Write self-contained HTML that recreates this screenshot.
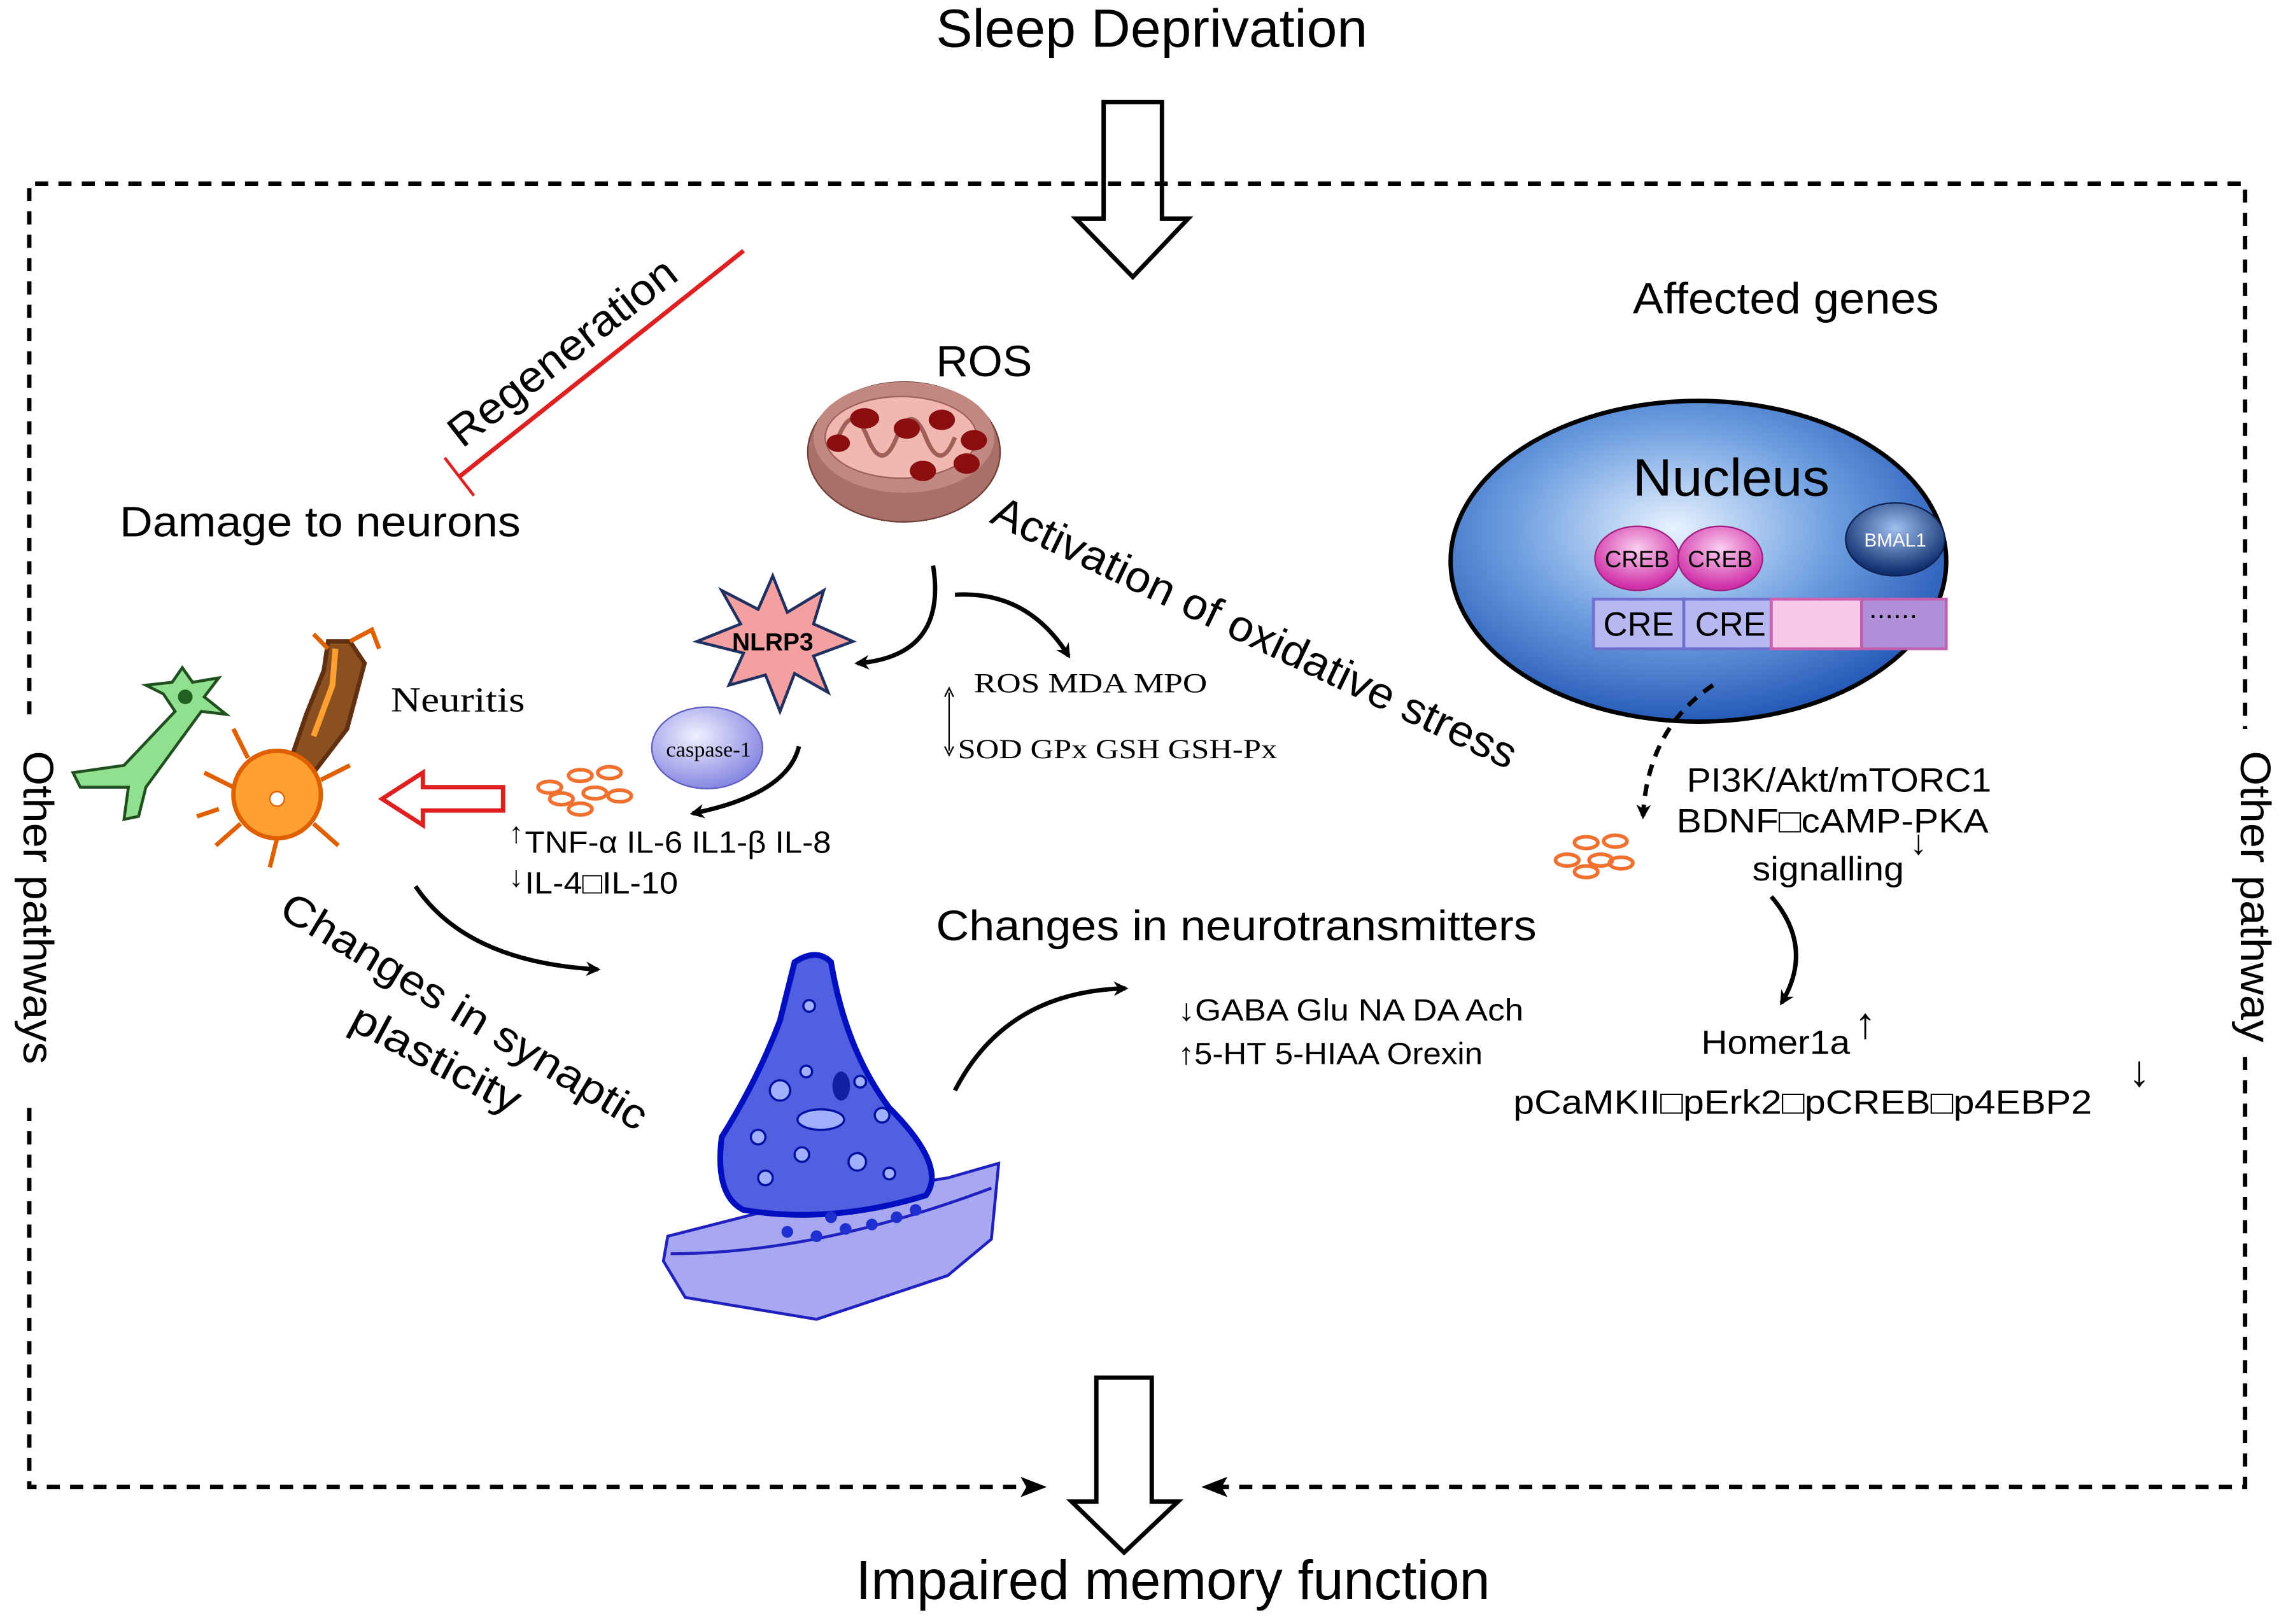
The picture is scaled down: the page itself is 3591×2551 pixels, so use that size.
<!DOCTYPE html>
<html><head><meta charset="utf-8"><style>html,body{margin:0;padding:0;background:#fff}svg{display:block}</style></head>
<body>
<svg width="3591" height="2551" viewBox="0 0 1568 1114" xmlns="http://www.w3.org/2000/svg" font-family="Liberation Sans, sans-serif">
<defs>
<radialGradient id="nuc" cx="0.45" cy="0.4" r="0.65"><stop offset="0" stop-color="#e8f2ff"/><stop offset="0.5" stop-color="#6d9ee0"/><stop offset="1" stop-color="#1a4fb0"/></radialGradient>
<radialGradient id="creb" cx="0.5" cy="0.35" r="0.6"><stop offset="0" stop-color="#fbd0f0"/><stop offset="1" stop-color="#d030a8"/></radialGradient>
<radialGradient id="bm" cx="0.5" cy="0.35" r="0.6"><stop offset="0" stop-color="#a0c0f0"/><stop offset="1" stop-color="#103070"/></radialGradient>
<radialGradient id="cas" cx="0.4" cy="0.35" r="0.7"><stop offset="0" stop-color="#f0f0ff"/><stop offset="1" stop-color="#8080e0"/></radialGradient>
<marker id="ah" markerWidth="10" markerHeight="10" refX="8" refY="5" orient="auto" markerUnits="userSpaceOnUse"><path d="M0,0 L10,5 L0,10 L3,5Z" fill="#000"/></marker>
</defs>
<text x="642" y="32" font-size="37" textLength="296" lengthAdjust="spacingAndGlyphs">Sleep Deprivation</text>
<path d="M757,70 H797 V150 H815 L777,190 L738,150 H757Z" fill="#fff" stroke="#000" stroke-width="3"/>
<g stroke="#000" stroke-width="3" stroke-dasharray="9,7" fill="none">
<path d="M20,490 V126 H1540 V500"/>
<path d="M20,760 V1020 H712"/>
<path d="M1540,725 V1020 H830"/>
</g>
<path d="M700,1013 L718,1020 L700,1027 L704,1020Z"/>
<path d="M842,1013 L824,1020 L842,1027 L838,1020Z"/>
<text transform="translate(16,515) rotate(90)" font-size="29" textLength="215" lengthAdjust="spacingAndGlyphs">Other pathways</text>
<text transform="translate(1537,515) rotate(90)" font-size="29" textLength="200" lengthAdjust="spacingAndGlyphs">Other pathway</text>
<path d="M752,945 H790 V1030 H808 L771,1065 L735,1030 H752Z" fill="#fff" stroke="#000" stroke-width="3"/>
<text x="587" y="1097" font-size="38" textLength="435" lengthAdjust="spacingAndGlyphs">Impaired memory function</text>
<line x1="315" y1="327" x2="510" y2="172" stroke="#e02020" stroke-width="3"/>
<line x1="305" y1="314" x2="325" y2="340" stroke="#e02020" stroke-width="2"/>
<text transform="translate(317,308) rotate(-38)" font-size="30" textLength="190" lengthAdjust="spacingAndGlyphs">Regeneration</text>
<text x="82" y="368" font-size="29" textLength="275" lengthAdjust="spacingAndGlyphs">Damage to neurons</text>
<text x="642" y="258" font-size="30" textLength="66" lengthAdjust="spacingAndGlyphs">ROS</text>
<ellipse cx="620" cy="310" rx="66" ry="48" fill="#a87068" stroke="#704038"/>
<ellipse cx="620" cy="300" rx="62" ry="38" fill="#c08880"/>
<ellipse cx="618" cy="300" rx="52" ry="28" fill="#f0b8b0" stroke="#a06058"/>
<path d="M575,300 q10,-25 20,0 q10,25 20,0 q10,-25 20,0 q10,25 20,0" fill="none" stroke="#a06058" stroke-width="3"/>
<g fill="#8a0e10"><ellipse cx="593" cy="287" rx="10" ry="7"/><ellipse cx="622" cy="294" rx="9" ry="7"/><ellipse cx="646" cy="288" rx="9" ry="7"/><ellipse cx="668" cy="302" rx="9" ry="7"/><ellipse cx="663" cy="318" rx="9" ry="7"/><ellipse cx="633" cy="323" rx="9" ry="7"/><ellipse cx="575" cy="304" rx="8" ry="6"/></g>
<path d="M640,388 Q650,450 588,455" fill="none" stroke="#000" stroke-width="3" marker-end="url(#ah)"/>
<path d="M655,408 Q705,405 733,450" fill="none" stroke="#000" stroke-width="3" marker-end="url(#ah)"/>
<path d="M530,395 L540,420 L565,405 L558,428 L585,440 L558,450 L568,475 L545,462 L535,488 L525,463 L500,470 L510,448 L478,440 L508,428 L495,405 L520,418Z" fill="#f4a0a0" stroke="#203060" stroke-width="2"/>
<text x="530" y="446" font-size="17" font-weight="bold" text-anchor="middle">NLRP3</text>
<ellipse cx="485" cy="513" rx="38" ry="28" fill="url(#cas)" stroke="#6060c0"/>
<text x="486" y="519" font-size="15" text-anchor="middle" font-family="Liberation Serif, serif">caspase-1</text>
<path d="M548,512 Q540,545 475,558" fill="none" stroke="#000" stroke-width="3" marker-end="url(#ah)"/>
<text transform="translate(678,358) rotate(25.5)" font-size="30" textLength="395" lengthAdjust="spacingAndGlyphs">Activation of oxidative stress</text>
<text x="668" y="475" font-size="19" font-family="Liberation Serif, serif" textLength="160" lengthAdjust="spacingAndGlyphs">ROS  MDA MPO</text>
<text x="657" y="520" font-size="19" font-family="Liberation Serif, serif" textLength="219" lengthAdjust="spacingAndGlyphs">SOD GPx GSH GSH-Px</text>
<line x1="651" y1="475" x2="651" y2="515" stroke="#000"/><path d="M648,478 L651,472 L654,478 M648,512 L651,518 L654,512" fill="none" stroke="#000"/>
<text x="1120" y="215" font-size="30" textLength="210" lengthAdjust="spacingAndGlyphs">Affected genes</text>
<ellipse cx="1165" cy="385" rx="170" ry="110" fill="url(#nuc)" stroke="#000" stroke-width="3"/>
<text x="1120" y="340" font-size="36" textLength="135" lengthAdjust="spacingAndGlyphs">Nucleus</text>
<ellipse cx="1123" cy="383" rx="29" ry="22" fill="url(#creb)" stroke="#a02080"/>
<ellipse cx="1180" cy="383" rx="29" ry="22" fill="url(#creb)" stroke="#a02080"/>
<text x="1123" y="389" font-size="16" text-anchor="middle">CREB</text>
<text x="1180" y="389" font-size="16" text-anchor="middle">CREB</text>
<ellipse cx="1300" cy="370" rx="34" ry="25" fill="url(#bm)" stroke="#102050"/>
<text x="1300" y="375" font-size="13" fill="#fff" text-anchor="middle">BMAL1</text>
<rect x="1093" y="411" width="62" height="34" fill="#b8b8f0" stroke="#7070d0" stroke-width="2"/>
<rect x="1155" y="411" width="60" height="34" fill="#b8b8f0" stroke="#7070d0" stroke-width="2"/>
<rect x="1215" y="411" width="62" height="34" fill="#f8c8e8" stroke="#d060b0" stroke-width="2"/>
<rect x="1277" y="411" width="58" height="34" fill="#b090d8" stroke="#c060b0" stroke-width="2"/>
<text x="1124" y="436" font-size="23" text-anchor="middle">CRE</text>
<text x="1187" y="436" font-size="23" text-anchor="middle">CRE</text>
<text x="1282" y="424" font-size="20">......</text>
<path d="M1175,470 Q1130,500 1127,560" fill="none" stroke="#000" stroke-width="3" stroke-dasharray="8,6" marker-end="url(#ah)"/>
<text x="1157" y="543" font-size="23" textLength="209" lengthAdjust="spacingAndGlyphs">PI3K/Akt/mTORC1</text>
<text x="1150" y="571" font-size="23" textLength="214" lengthAdjust="spacingAndGlyphs">BDNF□cAMP-PKA</text>
<text x="1202" y="604" font-size="23" textLength="104" lengthAdjust="spacingAndGlyphs">signalling</text>
<text x="1310" y="586" font-size="24">↓</text>
<path d="M1215,615 Q1245,650 1222,688" fill="none" stroke="#000" stroke-width="3" marker-end="url(#ah)"/>
<text x="1167" y="723" font-size="23" textLength="102" lengthAdjust="spacingAndGlyphs">Homer1a</text>
<text x="1272" y="712" font-size="30">↑</text>
<text x="1038" y="764" font-size="23" textLength="397" lengthAdjust="spacingAndGlyphs">pCaMKII□pErk2□pCREB□p4EBP2</text>
<text x="1460" y="745" font-size="30">↓</text>
<g fill="none" stroke="#f07030" stroke-width="2.5">
<ellipse cx="377" cy="540" rx="8" ry="4"/><ellipse cx="398" cy="532" rx="8" ry="4"/><ellipse cx="418" cy="530" rx="8" ry="4"/><ellipse cx="385" cy="548" rx="8" ry="4"/><ellipse cx="408" cy="544" rx="8" ry="4"/><ellipse cx="425" cy="546" rx="8" ry="4"/><ellipse cx="398" cy="555" rx="8" ry="4"/>
<ellipse cx="1088" cy="578" rx="8" ry="4"/><ellipse cx="1108" cy="577" rx="8" ry="4"/><ellipse cx="1098" cy="590" rx="8" ry="4"/><ellipse cx="1075" cy="590" rx="8" ry="4"/><ellipse cx="1112" cy="592" rx="8" ry="4"/><ellipse cx="1088" cy="598" rx="8" ry="4"/>
</g>
<text x="268" y="488" font-size="24" font-family="Liberation Serif, serif" textLength="92" lengthAdjust="spacingAndGlyphs">Neuritis</text>
<path d="M262,548 L290,530 V540 H345 V556 H290 V566Z" fill="#fff" stroke="#e02020" stroke-width="3"/>
<text x="360" y="585" font-size="21" textLength="210" lengthAdjust="spacingAndGlyphs">TNF-α IL-6 IL1-β IL-8</text>
<text x="360" y="613" font-size="21" textLength="105" lengthAdjust="spacingAndGlyphs">IL-4□IL-10</text>
<text x="349" y="578" font-size="20">↑</text><text x="349" y="608" font-size="20">↓</text>
<g stroke="#205020" stroke-width="2" fill="#90e090">
<path d="M50,530 L85,525 L120,488 L112,476 L100,470 L118,468 L125,458 L132,468 L150,465 L140,478 L155,490 L138,488 L100,540 L95,560 L85,562 L88,540 L55,540Z"/>
</g>
<circle cx="127" cy="478" r="5" fill="#206020"/>
<g stroke="#e06000" stroke-width="3" fill="#ffa030">
<path d="M225,440 L240,440 L250,455 L238,500 L215,530 L198,525 L210,490 L222,460Z" fill="#8a5020" stroke="#603010"/>
<path d="M230,445 L228,470 L215,505" stroke="#ffa030" stroke-width="4" fill="none"/>
<circle cx="190" cy="545" r="30"/>
<path d="M160,540 L140,530 M165,565 L148,580 M190,575 L185,595 M215,565 L232,580 M220,535 L240,525 M170,520 L160,500 M150,555 L135,560" fill="none"/>
<path d="M225,445 L215,435 M240,440 L255,432 L260,445" fill="none"/>
</g>
<circle cx="190" cy="548" r="5" fill="#fff" stroke="#e06000"/>
<text transform="translate(190,628) rotate(31)" font-size="29" textLength="288" lengthAdjust="spacingAndGlyphs">Changes in synaptic</text>
<text transform="translate(238,705) rotate(28)" font-size="29" textLength="128" lengthAdjust="spacingAndGlyphs">plasticity</text>
<path d="M285,608 Q320,660 410,665" fill="none" stroke="#000" stroke-width="3" marker-end="url(#ah)"/>
<path d="M458,848 L560,822 L650,808 L685,798 L680,850 L650,875 L560,905 L470,890 L455,865Z" fill="#a8a8f0" stroke="#2020c0" stroke-width="2"/>
<path d="M460,860 Q560,860 680,815" fill="none" stroke="#2020c0" stroke-width="2"/>
<path d="M545,660 Q560,650 570,660 Q580,720 610,760 Q650,800 635,820 Q570,840 510,830 Q490,820 495,780 Q520,740 535,700 Z" fill="#5060e0" stroke="#0010c0" stroke-width="4"/>
<g fill="#a0b0ff" stroke="#0010a0" stroke-width="1.5">
<circle cx="555" cy="690" r="4"/><circle cx="535" cy="748" r="7"/><circle cx="553" cy="735" r="4"/><circle cx="590" cy="742" r="4"/><circle cx="520" cy="780" r="5"/><circle cx="550" cy="792" r="5"/><circle cx="588" cy="797" r="6"/><circle cx="605" cy="765" r="5"/><circle cx="525" cy="808" r="5"/><circle cx="610" cy="805" r="4"/>
<ellipse cx="563" cy="768" rx="16" ry="7"/></g>
<ellipse cx="577" cy="745" rx="6" ry="10" fill="#1020a0"/>
<g fill="#2030d0"><circle cx="540" cy="845" r="4"/><circle cx="560" cy="848" r="4"/><circle cx="580" cy="843" r="4"/><circle cx="598" cy="840" r="4"/><circle cx="615" cy="835" r="4"/><circle cx="628" cy="830" r="4"/><circle cx="570" cy="835" r="4"/></g>
<path d="M655,748 Q690,680 772,678" fill="none" stroke="#000" stroke-width="3" marker-end="url(#ah)"/>
<text x="642" y="645" font-size="29" textLength="412" lengthAdjust="spacingAndGlyphs">Changes in neurotransmitters</text>
<text x="808" y="700" font-size="21" textLength="237" lengthAdjust="spacingAndGlyphs">↓GABA Glu  NA DA Ach</text>
<text x="808" y="730" font-size="21" textLength="209" lengthAdjust="spacingAndGlyphs">↑5-HT 5-HIAA Orexin</text>
</svg>
</body></html>
